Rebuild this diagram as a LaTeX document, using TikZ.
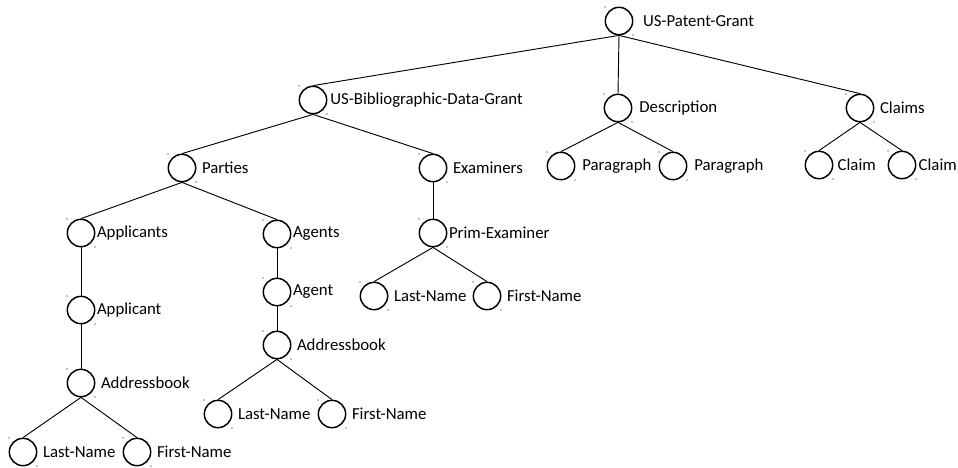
\documentclass[tikz,border=0pt]{standalone}
\usepackage{fontspec}
\setmainfont{Carlito}
\usetikzlibrary{calc}

\tikzset{
  elem/.style={circle, draw, line width=1.1pt, minimum size=20.5pt, inner sep=0pt},
  tag/.style={font=\fontsize{12.6}{15}\selectfont, label distance=3pt, inner sep=0pt},
  link/.style={line width=0.7pt}
}

\begin{document}
\begin{tikzpicture}[x=0.75pt,y=-0.75pt]
\useasboundingbox (0,0) rectangle (958,468);

% Radice
\node[elem, label={[tag,label distance=7pt]right:US-Patent-Grant}] (grant) at (619,21) {};

% Livello 1
\node[elem, label={[tag,label distance=2pt]right:US-Bibliographic-Data-Grant}] (biblio) at (313,100) {};
\node[elem, label={[tag,label distance=5pt]right:Description}] (descr) at (618,108) {};
\node[elem, label={[tag,label distance=4pt]right:Claims}] (claims) at (860,108) {};

% Descrizione e rivendicazioni
\node[elem, label={[tag,label distance=5pt]right:Paragraph}] (para1) at (561,166) {};
\node[elem, label={[tag,label distance=5pt]right:Paragraph}] (para2) at (673,166) {};
\node[elem, label={[tag,label distance=3pt]right:Claim}] (claim1) at (819,165) {};
\node[elem, label={[tag,label distance=1.5pt]right:Claim}] (claim2) at (902,165) {};

% Dati bibliografici
\node[elem, label={[tag,label distance=4pt]right:Parties}] (parties) at (182,168) {};
\node[elem, label={[tag,label distance=4pt]right:Examiners}] (exams) at (433,168) {};

\node[elem, label={[tag,label distance=1pt]right:Applicants}] (appls) at (81,233) {};
\node[elem, label={[tag,label distance=1pt]right:Agents}] (agents) at (277,234) {};
\node[elem, label={[tag,label distance=1pt]right:Prim-Examiner}] (prim) at (433,233) {};

\node[elem, label={[tag,label distance=1pt]right:Applicant}] (appl) at (81,310) {};
\node[elem, label={[tag,label distance=1pt]right:Agent}] (agent) at (277,292) {};
\node[elem, label={[tag,label distance=4pt]right:Last-Name}] (plast) at (374,296) {};
\node[elem, label={[tag,label distance=4pt]right:First-Name}] (pfirst) at (487,296) {};

\node[elem, label={[tag,label distance=4pt]right:Addressbook}] (gbook) at (277,345) {};
\node[elem, label={[tag,label distance=4pt]right:Addressbook}] (abook) at (81,383) {};

\node[elem, label={[tag,label distance=4pt]right:Last-Name}] (glast) at (218,414) {};
\node[elem, label={[tag,label distance=4pt]right:First-Name}] (gfirst) at (332,414) {};
\node[elem, label={[tag,label distance=4pt]right:Last-Name}] (alast) at (23,452) {};
\node[elem, label={[tag,label distance=4pt]right:First-Name}] (afirst) at (137,452) {};

% Archi padre -> figlio
\foreach \p/\c in {grant/biblio, grant/descr, grant/claims,
                   descr/para1, descr/para2, claims/claim1, claims/claim2,
                   biblio/parties, biblio/exams,
                   parties/appls, parties/agents, exams/prim,
                   appls/appl, appl/abook, abook/alast, abook/afirst,
                   agents/agent, agent/gbook, gbook/glast, gbook/gfirst,
                   prim/plast, prim/pfirst}
  \draw[link] (\p.south) -- (\c.north);

% Puntini agli angoli
\foreach \n in {grant, biblio, descr, claims, para1, para2, claim1, claim2,
                parties, exams, appls, agents, prim, appl, agent, plast, pfirst,
                gbook, abook, glast, gfirst, alast, afirst} {
  \fill ($(\n.center)+(-14,-14)$) circle (0.45pt);
  \fill ($(\n.center)+(14,14)$) circle (0.45pt);
}

\end{tikzpicture}
\end{document}
